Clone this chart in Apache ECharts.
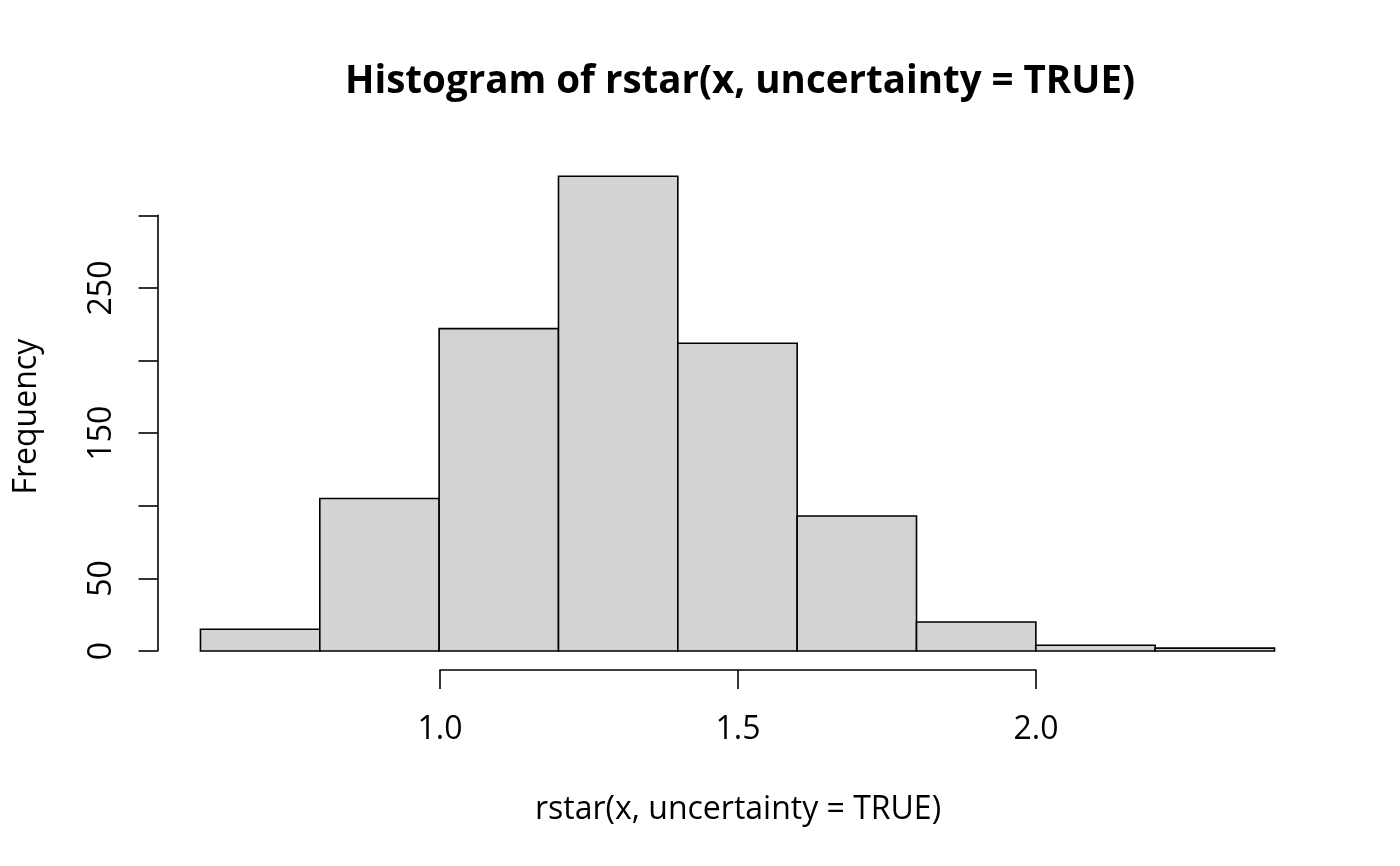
<!DOCTYPE html>
<html lang="en">
<head>
  <meta charset="UTF-8">
  <title>Histogram of rstar(x, uncertainty = TRUE)</title>
  <style type="text/css">
    * {
      margin: 0;
      padding: 0;
    }
    html, body {
      width: 100%;
      height: 100%;
      overflow: hidden;
      background: #ffffff;
    }
    #main {
      width: 1400px;
      height: 866px;
    }
  </style>
  <script type="text/javascript" src="https://cdn.jsdelivr.net/npm/echarts@6/dist/echarts.min.js"></script>
</head>
<body>
<div id="main"></div>
<script type="text/javascript">
  // histogram bins (left / right breaks) and counts
  var binStarts = [0.6, 0.8, 1.0, 1.2, 1.4, 1.6, 1.8, 2.0, 2.2];
  var binEnds = [0.8, 1.0, 1.2, 1.4, 1.6, 1.8, 2.0, 2.2, 2.4];
  var counts = [15, 105, 222, 327, 212, 93, 20, 4, 2];

  // tick labels R actually printed (the rest were dropped for overlap)
  var yTickValues = [0, 50, 100, 150, 200, 250, 300];
  var yTickLabels = ['0', '50', '', '150', '', '250', ''];
  var xTickValues = [1.0, 1.5, 2.0];
  var xTickLabels = ['1.0', '1.5', '2.0'];

  var font = '"Open Sans", "Noto Sans", sans-serif';

  var bins = [];
  for (var i = 0; i < counts.length; i++) {
    bins.push([binStarts[i], binEnds[i], counts[i]]);
  }

  var myChart = echarts.init(document.getElementById('main'), null, {renderer: 'canvas'});

  var option = {
    backgroundColor: '#ffffff',
    animation: false,
    title: {
      text: 'Histogram of rstar(x, uncertainty = TRUE)',
      left: 735,
      top: 58,
      textAlign: 'center',
      textStyle: {
        fontFamily: font,
        fontWeight: 'bold',
        fontSize: 38.5,
        color: '#000'
      }
    },
    grid: [
      // bars + y axis (0..300 spans the axis line)
      {left: 157.5, right: 82.5, top: 215.4, bottom: 215, containLabel: false},
      // x axis only (1.0..2.0)
      {left: 440, right: 364, top: 600, bottom: 196, containLabel: false}
    ],
    xAxis: [
      {
        gridIndex: 0,
        type: 'value',
        min: 0.528,
        max: 2.472,
        show: false
      },
      {
        gridIndex: 1,
        type: 'value',
        min: 1.0,
        max: 2.0,
        interval: 0.5,
        name: 'rstar(x, uncertainty = TRUE)',
        nameLocation: 'middle',
        nameGap: 124,
        nameTextStyle: {fontFamily: font, fontSize: 32, color: '#000'},
        axisLine: {show: true, lineStyle: {color: '#000', width: 1.6}},
        axisTick: {show: true, inside: false, length: 19, lineStyle: {color: '#000', width: 1.6}},
        splitLine: {show: false},
        axisLabel: {
          margin: 44,
          fontFamily: font,
          fontSize: 32,
          color: '#000',
          formatter: function (v) {
            var k = xTickValues.indexOf(v);
            return k >= 0 ? xTickLabels[k] : '';
          }
        }
      }
    ],
    yAxis: [
      {
        gridIndex: 0,
        type: 'value',
        min: 0,
        max: 300,
        interval: 50,
        name: 'Frequency',
        nameLocation: 'middle',
        nameRotate: 90,
        nameGap: 115,
        nameTextStyle: {fontFamily: font, fontSize: 32, color: '#000', padding: [0, 0, 0, 33]},
        axisLine: {show: true, lineStyle: {color: '#000', width: 1.6}},
        axisTick: {show: true, inside: false, length: 19, lineStyle: {color: '#000', width: 1.6}},
        splitLine: {show: false},
        axisLabel: {
          rotate: 90,
          margin: 40,
          fontFamily: font,
          fontSize: 32,
          color: '#000',
          formatter: function (v) {
            var k = yTickValues.indexOf(v);
            return k >= 0 ? yTickLabels[k] : '';
          }
        }
      },
      {
        gridIndex: 1,
        type: 'value',
        show: false
      }
    ],
    series: [
      {
        type: 'custom',
        xAxisIndex: 0,
        yAxisIndex: 0,
        clip: false,
        data: bins,
        renderItem: function (params, api) {
          var p0 = api.coord([api.value(0), api.value(2)]);
          var p1 = api.coord([api.value(1), 0]);
          return {
            type: 'rect',
            shape: {x: p0[0], y: p0[1], width: p1[0] - p0[0], height: p1[1] - p0[1]},
            style: {fill: '#d3d3d3', stroke: '#000', lineWidth: 1.6}
          };
        }
      }
    ]
  };

  myChart.setOption(option);
</script>
</body>
</html>
